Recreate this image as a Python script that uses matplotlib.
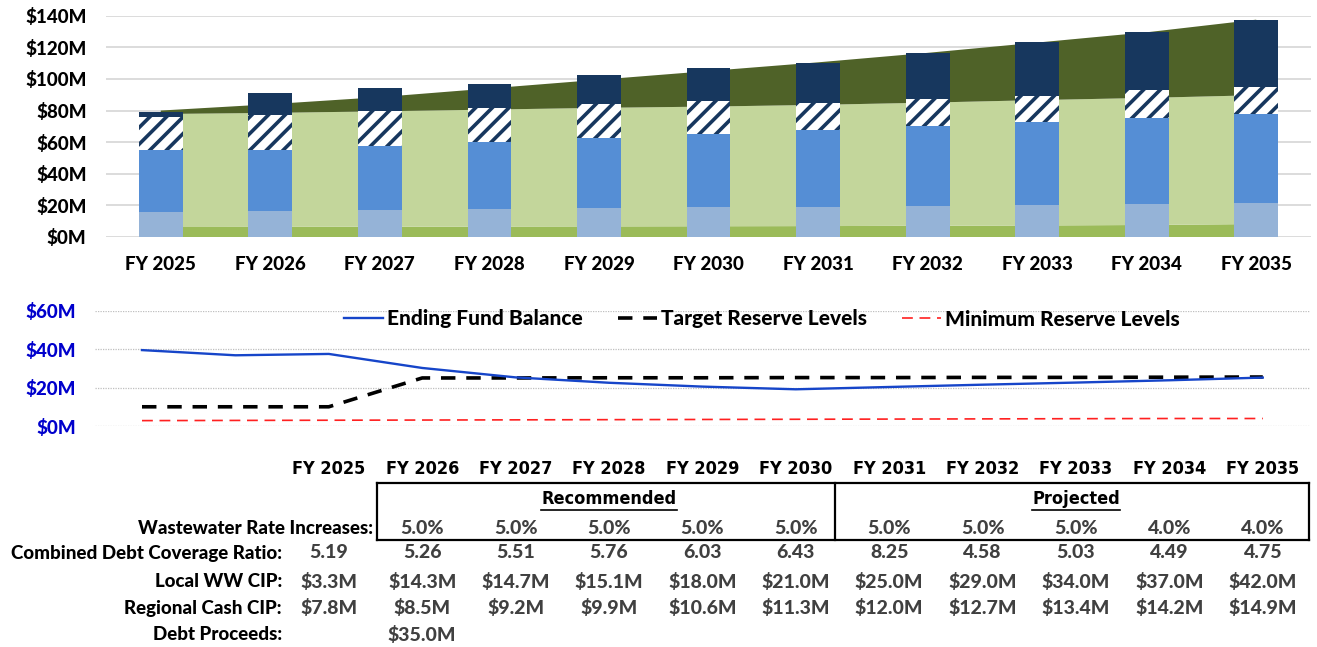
import matplotlib
matplotlib.use('Agg')
import matplotlib.pyplot as plt
from matplotlib import font_manager, transforms
from matplotlib.lines import Line2D
from matplotlib.font_manager import FontProperties
import numpy as np

# ---------------- data ----------------
years = ['FY 2025', 'FY 2026', 'FY 2027', 'FY 2028', 'FY 2029', 'FY 2030',
         'FY 2031', 'FY 2032', 'FY 2033', 'FY 2034', 'FY 2035']

# stacked bars ($M)
bar_existing = [15.8, 16.6, 17.0, 17.5, 18.1, 18.7, 19.1, 19.7, 20.4, 21.0, 21.6]
bar_mid = [39.2, 38.4, 40.6, 42.6, 44.5, 46.4, 48.4, 50.3, 52.3, 54.2, 56.1]
bar_hatched = [20.9, 22.0, 21.8, 21.7, 21.7, 20.9, 17.4, 17.4, 16.8, 17.5, 17.5]
local_cip = [3.3, 14.3, 14.7, 15.1, 18.0, 21.0, 25.0, 29.0, 34.0, 37.0, 42.0]

# stacked areas ($M)
area_base = [6.3, 6.4, 6.5, 6.6, 6.7, 6.8, 6.9, 7.1, 7.3, 7.6, 8.2]
area_mid = [71.5, 72.1, 73.0, 74.0, 75.0, 75.7, 76.7, 77.9, 79.3, 80.4, 81.5]
area_top = [2.2, 5.5, 9.0, 13.4, 17.8, 22.5, 26.9, 31.5, 36.4, 41.5, 47.8]

top_ticks = [0, 20, 40, 60, 80, 100, 120, 140]

# reserve chart ($M), 13 periods (two before FY 2025)
fund_balance = [39.5, 36.8, 37.5, 30.2, 25.3, 22.5, 20.5, 19.1, 20.3, 21.5, 22.6, 23.8, 25.2]
target_reserve = [10.0, 10.0, 10.0, 25.0, 25.0, 25.1, 25.1, 25.2, 25.2, 25.3, 25.3, 25.4, 25.5]
minimum_reserve = [2.8, 2.9, 3.0, 3.1, 3.2, 3.3, 3.4, 3.5, 3.6, 3.7, 3.8, 3.9, 3.9]
bottom_ticks = [0, 20, 40, 60]

# table
rate_increases = [5.0, 5.0, 5.0, 5.0, 5.0, 5.0, 5.0, 5.0, 4.0, 4.0]   # FY2026..FY2035
coverage_ratio = [5.19, 5.26, 5.51, 5.76, 6.03, 6.43, 8.25, 4.58, 5.03, 4.49, 4.75]
regional_cip = [7.8, 8.5, 9.2, 9.9, 10.6, 11.3, 12.0, 12.7, 13.4, 14.2, 14.9]
debt_proceeds = [None, 35.0, None, None, None, None, None, None, None, None, None]

# ---------------- style ----------------
C_BASE = '#9BBB59'
C_LGREEN = '#C3D69B'
C_OLIVE = '#4F6228'
C_LBLUE = '#95B3D7'
C_BLUE = '#558ED5'
C_NAVY = '#17375E'
C_GRID = '#D9D9D9'
C_AXBLUE = '#0000CC'
C_VAL = '#404040'

plt.rcParams['hatch.linewidth'] = 2.6

# locate a heavy face file
files = {}
cond_file = None
for f in font_manager.fontManager.ttflist:
    base = f.fname.replace('\\', '/').split('/')[-1].lower()
    files[base] = f.fname
    if ('condensed' in base or 'narrow' in base) and 'bold' in base \
            and 'italic' not in base and 'oblique' not in base and cond_file is None:
        cond_file = f.fname
heavy_file = None
for cand in ('lato-heavy.ttf', 'lato-extrabold.ttf', 'lato-bold.ttf'):
    if cand in files:
        heavy_file = files[cand]
        break


def bold(size):
    if heavy_file:
        return FontProperties(fname=heavy_file, size=size)
    return FontProperties(family='Lato', weight='heavy', size=size)


def cond(size):
    if cond_file:
        return FontProperties(fname=cond_file, size=size)
    return bold(size)


W, H = 1317, 647
fig = plt.figure(figsize=(W / 100, H / 100), dpi=100)


def fx(px):
    return px / W


def fy(py):
    return 1 - py / H


# ---------------- top chart ----------------
ax1 = fig.add_axes([fx(106), fy(237), fx(1311) - fx(106), fy(15.7) - fy(237)])
x = np.arange(len(years))
ax1.stackplot(x, area_base, area_mid, area_top, colors=[C_BASE, C_LGREEN, C_OLIVE],
              linewidth=0, zorder=2)
bw = 0.4
b0 = np.zeros(len(years))
ax1.bar(x, bar_existing, bw, bottom=b0, color=C_LBLUE, linewidth=0, zorder=3)
b1 = b0 + np.array(bar_existing)
ax1.bar(x, bar_mid, bw, bottom=b1, color=C_BLUE, linewidth=0, zorder=3)
b2 = b1 + np.array(bar_mid)
ax1.bar(x, bar_hatched, bw, bottom=b2, facecolor='white', edgecolor=C_NAVY,
        hatch='//', linewidth=0, zorder=3)
b3 = b2 + np.array(bar_hatched)
ax1.bar(x, local_cip, bw, bottom=b3, color=C_NAVY, linewidth=0, zorder=3)

ax1.set_xlim(-0.5, len(years) - 0.5)
ax1.set_ylim(0, 140)
ax1.set_yticks(top_ticks)
ax1.set_yticklabels([f'${v}M' for v in top_ticks])
ax1.set_xticks(x)
ax1.set_xticklabels(years)
ax1.grid(axis='y', color=C_GRID, linewidth=1.3, zorder=0)
ax1.set_axisbelow(True)
for s in ax1.spines.values():
    s.set_visible(False)
ax1.tick_params(axis='both', length=0)
ax1.tick_params(axis='y', pad=14)
ax1.tick_params(axis='x', pad=14)
for lab in ax1.get_yticklabels() + ax1.get_xticklabels():
    lab.set_fontproperties(bold(13.5))
    lab.set_color('black')

# ---------------- bottom chart ----------------
ax2 = fig.add_axes([fx(95.3), fy(426), fx(1309.5) - fx(95.3), fy(310.7) - fy(426)])
xi = np.arange(len(fund_balance))
l1, = ax2.plot(xi, fund_balance, color='#1645C9', linewidth=1.7, zorder=4,
               label='Ending Fund Balance')
l2, = ax2.plot(xi, target_reserve, color='black', linewidth=2.6, zorder=3,
               dashes=(4.0, 3.0), label='Target Reserve Levels')
l3, = ax2.plot(xi, minimum_reserve, color='#FF2020', linewidth=1.2, zorder=3,
               dashes=(6.5, 4.0), label='Minimum Reserve Levels')
ax2.set_xlim(-0.5, len(fund_balance) - 0.5)
ax2.set_ylim(0, 60)
ax2.set_yticks(bottom_ticks)
ax2.set_yticklabels([f'${v}M' for v in bottom_ticks])
ax2.set_xticks([])
ax2.grid(axis='y', color='#BFBFBF', linewidth=0.9, linestyle=(0, (1, 1)), zorder=0)
for s in ax2.spines.values():
    s.set_visible(False)
ax2.tick_params(axis='y', length=0, pad=14)
for lab in ax2.get_yticklabels():
    lab.set_fontproperties(bold(13.5))
    lab.set_color(C_AXBLUE)

leg = ax2.legend(handles=[l1, l2, l3], loc='center', bbox_to_anchor=(fx(762), fy(319)),
                 bbox_transform=fig.transFigure, ncol=3, frameon=False,
                 handlelength=1.85, handletextpad=0.2, columnspacing=1.7,
                 prop=bold(15))

# ---------------- table ----------------
col_x = xi[2:]  # FY2025..FY2035 columns aligned with reserve chart
tr = transforms.blended_transform_factory(ax2.transData, fig.transFigure)

for cx, yr in zip(col_x, years):
    fig.text(cx, fy(469), yr, transform=tr, ha='center', va='center',
             fontproperties=cond(13), color='black')

rec_t = fig.text((col_x[1] + col_x[5]) / 2, fy(499), 'Recommended', transform=tr,
                 ha='center', va='center', fontproperties=cond(13), color='black')
proj_t = fig.text(col_x[8], fy(499), 'Projected', transform=tr, ha='center', va='center',
                  fontproperties=cond(13), color='black')

lab_kw = dict(ha='right', va='center', fontproperties=bold(13.5), color='black')
fig.text(fx(373), fy(528), 'Wastewater Rate Increases:', **lab_kw)
fig.text(fx(282), fy(553), 'Combined Debt Coverage Ratio:', **lab_kw)
fig.text(fx(282), fy(581.5), 'Local WW CIP:', **lab_kw)
fig.text(fx(282), fy(608.5), 'Regional Cash CIP:', **lab_kw)
fig.text(fx(282), fy(635), 'Debt Proceeds:', **lab_kw)

val_kw = dict(ha='center', va='center', fontproperties=bold(14), color=C_VAL, transform=tr)
for cx, v in zip(col_x[1:], rate_increases):
    fig.text(cx, fy(528), f'{v:.1f}%', **val_kw)
for cx, v in zip(col_x, coverage_ratio):
    fig.text(cx, fy(553), f'{v:.2f}', **val_kw)
for cx, v in zip(col_x, local_cip):
    fig.text(cx, fy(581.5), f'${v:.1f}M', **val_kw)
for cx, v in zip(col_x, regional_cip):
    fig.text(cx, fy(608.5), f'${v:.1f}M', **val_kw)
for cx, v in zip(col_x, debt_proceeds):
    if v is not None:
        fig.text(cx, fy(635), f'${v:.1f}M', **val_kw)

# boxes around rate increase rows
box_lw = 1.6


def fline(xs, ys):
    fig.add_artist(Line2D([fx(a) for a in xs], [fy(b) for b in ys],
                          transform=fig.transFigure, color='black', linewidth=box_lw))


fline([376.7, 1309.3], [483.3, 483.3])
fline([376.7, 1309.3], [540, 540])
fline([376.7, 376.7], [483.3, 540])
fline([834.7, 834.7], [483.3, 540])
fline([1309.3, 1309.3], [483.3, 540])

# underline headings
fig.canvas.draw()
r = fig.canvas.get_renderer()
for t in (rec_t, proj_t):
    bb = t.get_window_extent(r)
    yline = bb.y0 - 1.5
    fig.add_artist(Line2D([bb.x0 / W, bb.x1 / W], [yline / H, yline / H],
                          transform=fig.transFigure, color='black', linewidth=1.2))

fig.savefig('out.png', dpi=100)
